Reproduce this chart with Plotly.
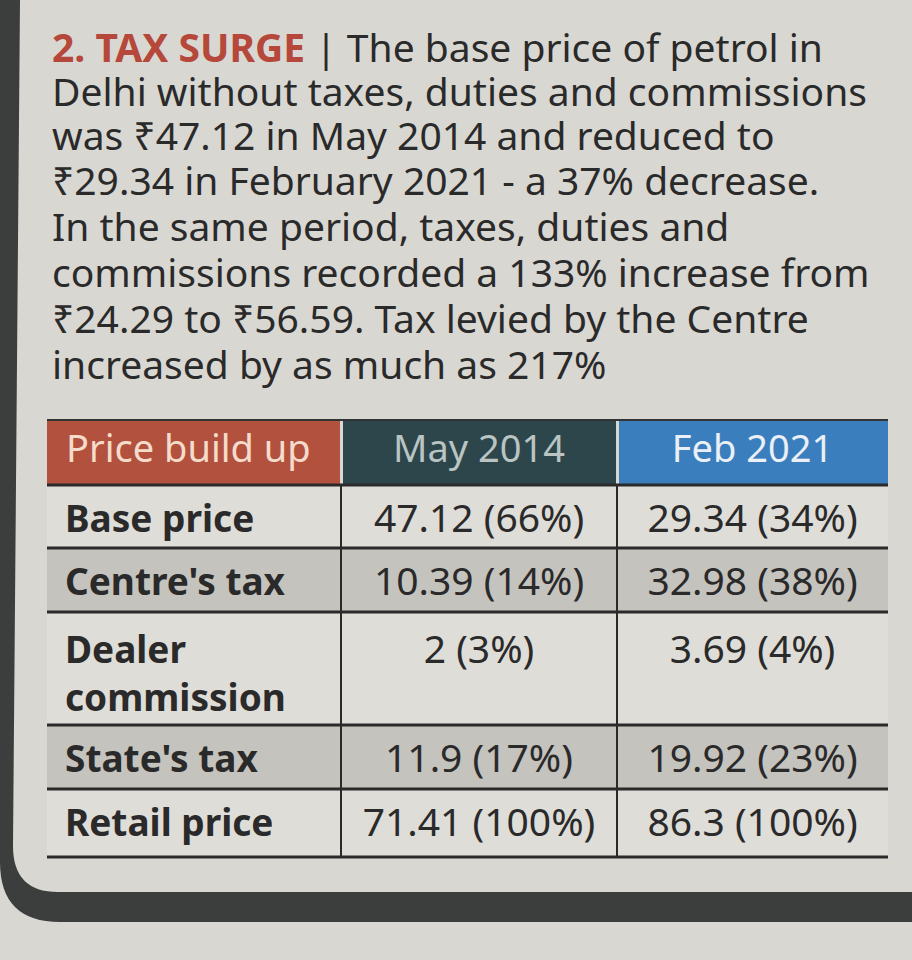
import plotly.graph_objects as go

# ---- data ----
title_lines = [
    "<b>2. TAX SURGE</b>",
    "Delhi without taxes, duties and commissions",
    "was ₹47.12 in May 2014 and reduced to",
    "₹29.34 in February 2021 - a 37% decrease.",
    "In the same period, taxes, duties and",
    "commissions recorded a 133% increase from",
    "₹24.29 to ₹56.59. Tax levied by the Centre",
    "increased by as much as 217%",
]
title_tail = " | The base price of petrol in"

headers = ["Price build up", "May 2014", "Feb 2021"]
row_labels = ["Base price", "Centre's tax", "Dealer<br>commission", "State's tax", "Retail price"]
may_2014 = ["47.12 (66%)", "10.39 (14%)", "2 (3%)", "11.9 (17%)", "71.41 (100%)"]
feb_2021 = ["29.34 (34%)", "32.98 (38%)", "3.69 (4%)", "19.92 (23%)", "86.3 (100%)"]

# ---- layout constants (pixels) ----
W, H = 912, 960
FONT = "Noto Sans"
INK = "#2a2a2a"
PAPER = "#d9d7d2"
LIGHT = "#dfddd8"
STIPPLE = "#c5c3bd"

tbl_left, tbl_right = 47, 888
col_edges = [47, 341, 617, 888]
head_top, head_bot = 420, 485
row_h = [63, 64, 113, 64, 68]
head_fill = ["#b3513f", "#2d464c", "#3b7ebd"]
head_text = ["#f4dccb", "#b9c4c3", "#eaf0f5"]

row_tops = [head_bot]
for h in row_h:
    row_tops.append(row_tops[-1] + h)

fig = go.Figure()
shapes = []

# frame: dark left edge that curves into the bottom band
shapes.append(dict(
    type="path",
    path="M 0 0 L 0 862 Q 0 922 60 922 L 912 922 L 912 892 L 58 892 Q 13 892 13 846 L 20 0 Z",
    fillcolor="#3c3d3d", line=dict(width=0), layer="below"))

# header blocks
for i in range(3):
    shapes.append(dict(type="rect", x0=col_edges[i] + (0 if i == 0 else 2),
                       x1=col_edges[i + 1] - (1 if i < 2 else 0),
                       y0=head_top, y1=head_bot, fillcolor=head_fill[i],
                       line=dict(width=0), layer="below"))
shapes.append(dict(type="line", x0=tbl_left, x1=tbl_right, y0=head_top, y1=head_top,
                   line=dict(color="#333333", width=2)))

# body rows
for r, h in enumerate(row_h):
    shapes.append(dict(type="rect", x0=tbl_left, x1=tbl_right,
                       y0=row_tops[r], y1=row_tops[r + 1],
                       fillcolor=STIPPLE if r % 2 else LIGHT,
                       line=dict(width=0), layer="below"))
for y in row_tops:
    shapes.append(dict(type="line", x0=tbl_left, x1=tbl_right, y0=y, y1=y,
                       line=dict(color=INK, width=3)))
for x in col_edges[1:3]:
    shapes.append(dict(type="line", x0=x, x1=x, y0=head_bot, y1=row_tops[-1],
                       line=dict(color=INK, width=2)))

# header text
head_x = [66, (col_edges[1] + col_edges[2]) / 2, (col_edges[2] + col_edges[3]) / 2]
fig.add_trace(go.Scatter(
    x=head_x, y=[(head_top + head_bot) / 2] * 3, mode="text", text=headers,
    textposition=["middle right", "middle center", "middle center"],
    textfont=dict(family=FONT, size=38, color=head_text), hoverinfo="skip"))

# row labels
label_y = [row_tops[r] + 38 + 28 * row_labels[r].count("<br>") for r in range(len(row_labels))]
fig.add_trace(go.Scatter(
    x=[65] * len(row_labels), y=label_y, mode="text", text=row_labels,
    textposition="middle right",
    textfont=dict(family=FONT, size=37, color=INK, weight="bold"), hoverinfo="skip"))

# values
value_y = [row_tops[r] + 37 + 4 * row_labels[r].count("<br>") for r in range(len(row_labels))]
for c, vals in enumerate([may_2014, feb_2021]):
    fig.add_trace(go.Scatter(
        x=[head_x[c + 1]] * len(vals), y=value_y, mode="text", text=vals,
        textposition="middle center",
        textfont=dict(family=FONT, size=39, color=INK), hoverinfo="skip"))

# intro paragraph
annotations = []
line_y = [46, 90, 134, 179, 225, 271, 317, 363]
for i, (t, y) in enumerate(zip(title_lines, line_y)):
    if i == 0:
        t = "<span style='color:#b5483a'>" + t + "</span>" + title_tail
    annotations.append(dict(x=50, y=y, xref="x", yref="y", text=t, showarrow=False,
                            xanchor="left", yanchor="middle",
                            font=dict(family=FONT, size=39, color=INK)))

fig.update_layout(
    width=W, height=H, margin=dict(l=0, r=0, t=0, b=0),
    paper_bgcolor=PAPER, plot_bgcolor=PAPER, showlegend=False,
    shapes=shapes, annotations=annotations,
    xaxis=dict(range=[0, W], visible=False, fixedrange=True),
    yaxis=dict(range=[H, 0], visible=False, fixedrange=True),
)

fig.write_html("out.html", config={"displayModeBar": False},
               post_script="document.body.style.margin='0';")
